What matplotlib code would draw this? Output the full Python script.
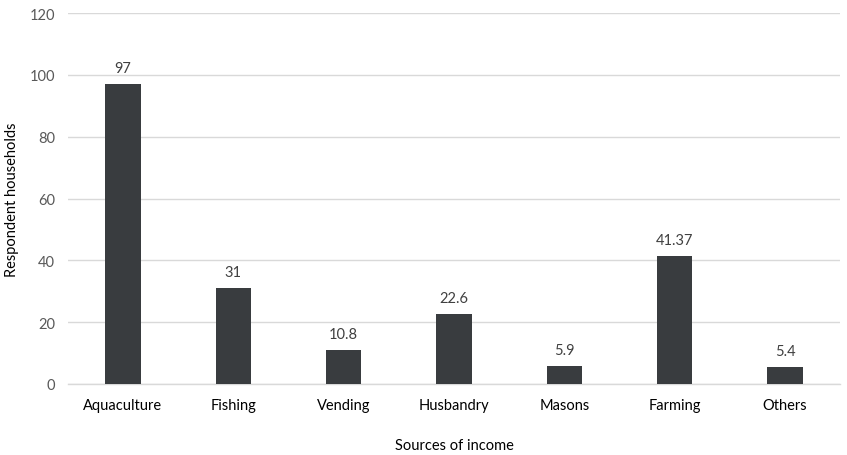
import matplotlib
matplotlib.use("Agg")
import matplotlib.pyplot as plt

# data
sources = ["Aquaculture", "Fishing", "Vending", "Husbandry", "Masons", "Farming", "Others"]
households = [97, 31, 10.8, 22.6, 5.9, 41.37, 5.4]
value_labels = ["97", "31", "10.8", "22.6", "5.9", "41.37", "5.4"]
y_ticks = [0, 20, 40, 60, 80, 100, 120]

plt.rcParams['font.family'] = ['Lato', 'DejaVu Sans']

fig = plt.figure(figsize=(8.47, 4.56), dpi=100)
ax = fig.add_axes([0.080, 0.156, 0.912, 0.813])

x = range(len(sources))
bars = ax.bar(x, households, width=0.32, color="#393c3f", zorder=3)
for b, lab in zip(bars, value_labels):
    ax.annotate(lab, (b.get_x() + b.get_width() / 2, b.get_height()),
                xytext=(0, 6.5), textcoords="offset points",
                ha="center", va="bottom", fontsize=10.5, color="#404040")

ax.set_xlim(-0.5, len(sources) - 0.5)
ax.set_ylim(0, 120)
ax.set_yticks(y_ticks)
ax.set_xticks(list(x))
ax.set_xticklabels(sources, fontsize=10.5, color="#000000")
ax.tick_params(axis="y", labelsize=10.5, labelcolor="#595959", length=0, pad=9)
ax.tick_params(axis="x", length=0, pad=10)
ax.grid(axis="y", color="#d9d9d9", linewidth=1, zorder=0)
for s in ["top", "right", "left"]:
    ax.spines[s].set_visible(False)
ax.spines["bottom"].set_color("#d9d9d9")
ax.spines["bottom"].set_linewidth(1)

ax.set_xlabel("Sources of income", fontsize=10.5)
ax.set_ylabel("Respondent households", fontsize=10.5)
ax.xaxis.set_label_coords(0.5, -0.147)
ax.yaxis.set_label_coords(-0.063, 0.5)

fig.savefig("out.png", dpi=100)
